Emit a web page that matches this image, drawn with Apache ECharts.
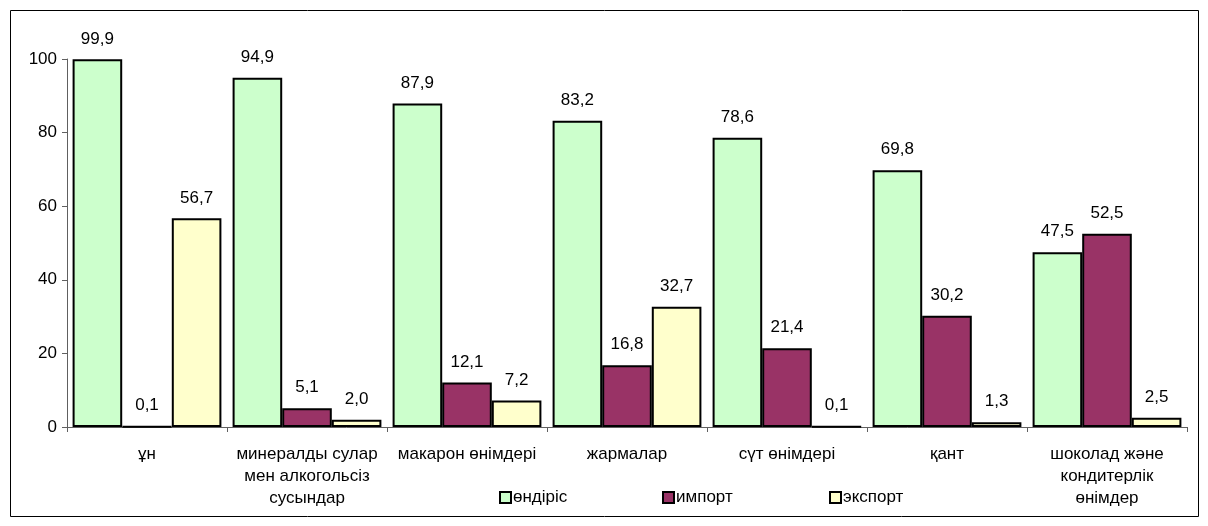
<!DOCTYPE html>
<html><head><meta charset="utf-8">
<script src="https://cdn.jsdelivr.net/npm/echarts@6/dist/echarts.min.js"></script>
<style>html,body{margin:0;padding:0;background:#fff}#c{width:1208px;height:526px}</style>
</head><body><div id="c"></div>
<script>
const categories = ['ұн', 'минералды сулар\nмен алкогольсіз\nсусындар', 'макарон өнімдері', 'жармалар', 'сүт өнімдері', 'қант', 'шоколад және\nкондитерлік\nөнімдер'];
const seriesNames = ['өндіріс', 'импорт', 'экспорт'];
const production = [99.9, 94.9, 87.9, 83.2, 78.6, 69.8, 47.5];
const imports = [0.1, 5.1, 12.1, 16.8, 21.4, 30.2, 52.5];
const exports = [56.7, 2.0, 7.2, 32.7, 0.1, 1.3, 2.5];
const yTicks = [0, 20, 40, 60, 80, 100];

const colors = ['#CCFFCC', '#993366', '#FFFFCC'];
const font = 'Arial, "Liberation Sans", sans-serif';
const chart = echarts.init(document.getElementById('c'), null, {renderer: 'canvas'});
const mk = (name, data, color) => ({
  name, type: 'bar', data,
  barGap: '0%', barCategoryGap: '7%',
  itemStyle: {color, borderColor: '#000', borderWidth: 2},
  label: {show: true, position: 'top', distance: 12, color: '#000', fontFamily: font, fontSize: 17,
    formatter: p => p.value.toFixed(1).replace('.', ',')},
  emphasis: {disabled: true}
});
const legendLefts = [499, 662, 829];
chart.setOption({
  animation: false,
  graphic: [{type: 'rect', shape: {x: 10.5, y: 10.5, width: 1188, height: 506}, style: {fill: 'none', stroke: '#000', lineWidth: 1}, z: -1}],
  grid: {left: 67, right: 21, top: 59, bottom: 99},
  legend: seriesNames.map((n, i) => ({
    data: [n], left: legendLefts[i], top: 489, padding: 0, itemWidth: 11, itemHeight: 11, itemGap: 4,
    icon: 'rect', textStyle: {fontFamily: font, fontSize: 17, color: '#000', padding: [0, 0, 0, -3]},
    selectedMode: false,
    itemStyle: {borderColor: '#000', borderWidth: 2}
  })),
  xAxis: {
    type: 'category', data: categories,
    axisLine: {lineStyle: {color: '#606060', width: 1}},
    axisTick: {show: true, length: 5, lineStyle: {color: '#606060'}},
    axisLabel: {fontFamily: font, fontSize: 17, color: '#000', lineHeight: 22, margin: 16, interval: 0}
  },
  yAxis: {
    type: 'value', min: 0, max: 100, interval: 20,
    splitLine: {show: false},
    axisLine: {show: true, lineStyle: {color: '#606060', width: 1}},
    axisTick: {show: true, length: 5, lineStyle: {color: '#606060'}},
    axisLabel: {fontFamily: font, fontSize: 17, color: '#000', margin: 10,
      formatter: v => yTicks.includes(v) ? String(v) : ''}
  },
  series: [mk(seriesNames[0], production, colors[0]), mk(seriesNames[1], imports, colors[1]), mk(seriesNames[2], exports, colors[2])]
});
</script></body></html>
